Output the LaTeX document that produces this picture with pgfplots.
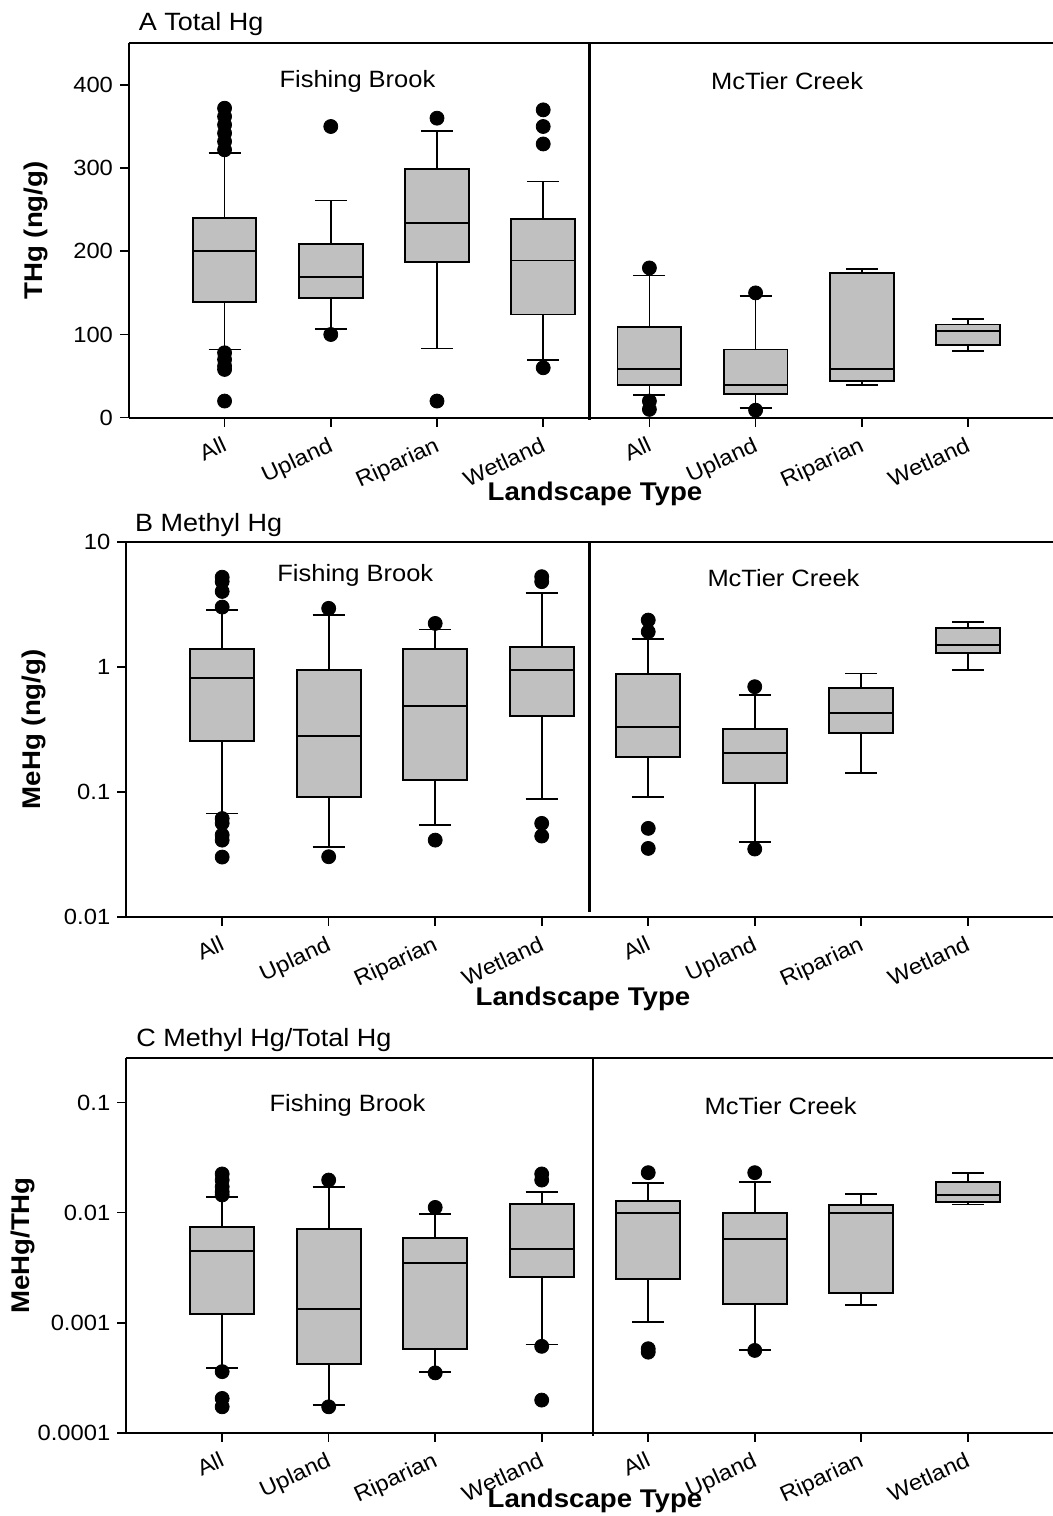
\documentclass[border=0pt]{standalone}
\usepackage{pgfplots}
\pgfplotsset{compat=1.18}
\usepgfplotslibrary{statistics}
\usepackage{fontspec}
\setmainfont{Liberation Sans}[FakeStretch=1.08]
\definecolor{boxgray}{HTML}{C0C0C0}
\pgfplotsset{
  hgpanel/.style={
    scale only axis,
    clip=false,
    axis lines=left,
    axis line style={-, line width=0.9pt, black},
    tick align=outside,
    major tick length=4.5pt,
    tick style={black, line width=0.8pt},
    xmin=-0.9, xmax=7.8,
    xtick={0,1,2,3,4,5,6,7},
    xticklabels={All,Upland,Riparian,Wetland,All,Upland,Riparian,Wetland},
    xticklabel style={rotate=25, anchor=north east, font=\fontsize{11}{13}\selectfont},
    yticklabel style={font=\fontsize{11}{13}\selectfont},
    /pgf/number format/assume math mode=true,
    boxplot/draw direction=y,
    boxplot/box extend=0.6,
    boxplot/whisker extend=0.3,
    boxplot/every box/.style={draw=black, fill=boxgray, line width=0.95pt},
    boxplot/every whisker/.style={draw=black, line width=0.85pt},
    boxplot/every median/.style={draw=black, line width=0.95pt},
    every axis title/.style={anchor=base west, inner sep=0pt, font=\fontsize{12.5}{15}\selectfont},
    every axis x label/.style={anchor=center, font=\bfseries\fontsize{12.8}{15}\selectfont},
    every axis y label/.style={anchor=center, rotate=90, font=\bfseries\fontsize{12.8}{15}\selectfont},
  },
  hgbox/.style={boxplot prepared={#1}, black, solid, mark=*, mark size=3.5pt, mark options={fill=black, draw=black}},
}
\newcommand{\grouplabel}{\fontsize{11.8}{14}\selectfont}
\begin{document}
\begin{tikzpicture}
\useasboundingbox (0,0) rectangle (526.5pt,-758pt);
% ---------------- Panel A ----------------
\begin{axis}[hgpanel,
  at={(64.5pt,-21.65pt)}, anchor=north west,
  width=462pt, height=187.2pt,
  ymin=0, ymax=450, ytick={0,100,200,300,400},
  title={A Total Hg}, title style={at={(axis description cs:0.0103,1.0337)}},
  xlabel={Landscape Type}, xlabel style={at={(axis description cs:0.5043,-0.2038)}},
  ylabel={THg (ng/g)}, ylabel style={at={(axis description cs:-0.1012,0.5)}},
]
\addplot[hgbox={lower whisker=82, lower quartile=139, median=200, upper quartile=240, upper whisker=318, draw position=0}]
  coordinates {(0,372) (0,362) (0,352) (0,342) (0,332) (0,322) (0,78) (0,70) (0,62) (0,58) (0,20)};
\addplot[hgbox={lower whisker=107, lower quartile=144, median=169, upper quartile=209, upper whisker=261, draw position=1}]
  coordinates {(1,350) (1,100)};
\addplot[hgbox={lower whisker=83, lower quartile=187, median=234, upper quartile=299, upper whisker=345, draw position=2}]
  coordinates {(2,360) (2,20)};
\addplot[hgbox={lower whisker=69, lower quartile=124, median=189, upper quartile=239, upper whisker=284, draw position=3}]
  coordinates {(3,370) (3,350) (3,329) (3,60)};
\addplot[hgbox={lower whisker=27, lower quartile=39, median=59, upper quartile=109, upper whisker=171, draw position=4}]
  coordinates {(4,180) (4,20) (4,10)};
\addplot[hgbox={lower whisker=12, lower quartile=29, median=39, upper quartile=82, upper whisker=146, draw position=5}]
  coordinates {(5,150) (5,9)};
\addplot[hgbox={lower whisker=39, lower quartile=44, median=59, upper quartile=174, upper whisker=179, draw position=6}]
  coordinates {};
\addplot[hgbox={lower whisker=80, lower quartile=87, median=104, upper quartile=112, upper whisker=119, draw position=7}]
  coordinates {};
\draw[line width=0.9pt] (rel axis cs:0,1) -- (rel axis cs:1,1);
\draw[line width=1.5pt] (rel axis cs:0.4983,1) -- (rel axis cs:0.4983,-0.006);
\node[anchor=base, font=\grouplabel] at (axis cs:1.251,397) {Fishing Brook};
\node[anchor=base, font=\grouplabel] at (axis cs:5.296,394) {McTier Creek};
\end{axis}
% ---------------- Panel B ----------------
\begin{axis}[hgpanel,
  at={(63.15pt,-270.85pt)}, anchor=north west,
  width=463.35pt, height=187.5pt,
  ymode=log, ymin=0.01, ymax=10, ytick={0.01,0.1,1,10}, yticklabels={0.01,0.1,1,10},
  yminorticks=false,
  title={B Methyl Hg}, title style={at={(axis description cs:0.0091,1.0285)}},
  xlabel={Landscape Type}, xlabel style={at={(axis description cs:0.4928,-0.2181)}},
  ylabel={MeHg (ng/g)}, ylabel style={at={(axis description cs:-0.1001,0.5)}},
]
\addplot[hgbox={lower whisker=0.067, lower quartile=0.256, median=0.816, upper quartile=1.376, upper whisker=2.84, draw position=0}]
  coordinates {(0,5.2) (0,4.8) (0,4.0) (0,3.0) (0,0.061) (0,0.056) (0,0.045) (0,0.041) (0,0.030)};
\addplot[hgbox={lower whisker=0.0363, lower quartile=0.0912, median=0.281, upper quartile=0.94, upper whisker=2.59, draw position=1}]
  coordinates {(1,2.93) (1,0.0302)};
\addplot[hgbox={lower whisker=0.0541, lower quartile=0.124, median=0.487, upper quartile=1.376, upper whisker=1.99, draw position=2}]
  coordinates {(2,2.22) (2,0.041)};
\addplot[hgbox={lower whisker=0.0869, lower quartile=0.403, median=0.94, upper quartile=1.445, upper whisker=3.91, draw position=3}]
  coordinates {(3,5.25) (3,4.79) (3,0.0558) (3,0.0442)};
\addplot[hgbox={lower whisker=0.0912, lower quartile=0.1905, median=0.331, upper quartile=0.874, upper whisker=1.66, draw position=4}]
  coordinates {(4,2.36) (4,1.905) (4,0.0509) (4,0.0352)};
\addplot[hgbox={lower whisker=0.0394, lower quartile=0.1166, median=0.203, upper quartile=0.317, upper whisker=0.593, draw position=5}]
  coordinates {(5,0.692) (5,0.0348)};
\addplot[hgbox={lower whisker=0.142, lower quartile=0.293, median=0.423, upper quartile=0.671, upper whisker=0.884, draw position=6}]
  coordinates {};
\addplot[hgbox={lower whisker=0.94, lower quartile=1.278, median=1.49, upper quartile=2.026, upper whisker=2.29, draw position=7}]
  coordinates {};
\draw[line width=0.9pt] (rel axis cs:0,1) -- (rel axis cs:1,1);
\draw[line width=1.5pt] (rel axis cs:0.5,1) -- (rel axis cs:0.5,0.012);
\node[anchor=base, font=\grouplabel] at (axis cs:1.25,4.79) {Fishing Brook};
\node[anchor=base, font=\grouplabel] at (axis cs:5.27,4.42) {McTier Creek};
\end{axis}
% ---------------- Panel C ----------------
\begin{axis}[hgpanel,
  at={(63.15pt,-529.15pt)}, anchor=north west,
  width=463.35pt, height=187.2pt,
  ymode=log, ymin=0.0001, ymax=0.253, ytick={0.0001,0.001,0.01,0.1}, yticklabels={0.0001,0.001,0.01,0.1},
  yminorticks=false,
  title={C Methyl Hg/Total Hg}, title style={at={(axis description cs:0.0105,1.031)}},
  xlabel={Landscape Type}, xlabel style={at={(axis description cs:0.5058,-0.1824)}},
  ylabel={MeHg/THg}, ylabel style={at={(axis description cs:-0.1115,0.5)}},
]
\addplot[hgbox={lower whisker=0.000385, lower quartile=0.00119, median=0.00449, upper quartile=0.00741, upper whisker=0.01397, draw position=0}]
  coordinates {(0,0.0225) (0,0.0198) (0,0.0172) (0,0.0155) (0,0.0145) (0,0.000359) (0,0.000205) (0,0.000172)};
\addplot[hgbox={lower whisker=0.000179, lower quartile=0.000418, median=0.00133, upper quartile=0.00705, upper whisker=0.0172, draw position=1}]
  coordinates {(1,0.0198) (1,0.000172)};
\addplot[hgbox={lower whisker=0.000359, lower quartile=0.000577, median=0.00351, upper quartile=0.00593, upper whisker=0.00972, draw position=2}]
  coordinates {(2,0.01117) (2,0.00035)};
\addplot[hgbox={lower whisker=0.000635, lower quartile=0.00258, median=0.00465, upper quartile=0.0119, upper whisker=0.0155, draw position=3}]
  coordinates {(3,0.0225) (3,0.0198) (3,0.00061) (3,0.000198)};
\addplot[hgbox={lower whisker=0.00102, lower quartile=0.00249, median=0.00986, upper quartile=0.01277, upper whisker=0.0185, draw position=4}]
  coordinates {(4,0.0231) (4,0.00058) (4,0.00054)};
\addplot[hgbox={lower whisker=0.000565, lower quartile=0.00148, median=0.00573, upper quartile=0.00986, upper whisker=0.0191, draw position=5}]
  coordinates {(5,0.0231) (5,0.00056)};
\addplot[hgbox={lower whisker=0.00145, lower quartile=0.00185, median=0.00986, upper quartile=0.01167, upper whisker=0.0148, draw position=6}]
  coordinates {};
\addplot[hgbox={lower whisker=0.0119, lower quartile=0.0125, median=0.0146, upper quartile=0.01888, upper whisker=0.0231, draw position=7}]
  coordinates {};
\draw[line width=0.9pt] (rel axis cs:0,1) -- (rel axis cs:1,1);
\draw[line width=1.1pt] (rel axis cs:0.5034,1) -- (rel axis cs:0.5034,-0.01);
\node[anchor=base, font=\grouplabel] at (axis cs:1.177,0.0828) {Fishing Brook};
\node[anchor=base, font=\grouplabel] at (axis cs:5.243,0.0773) {McTier Creek};
\end{axis}
\end{tikzpicture}
\end{document}
